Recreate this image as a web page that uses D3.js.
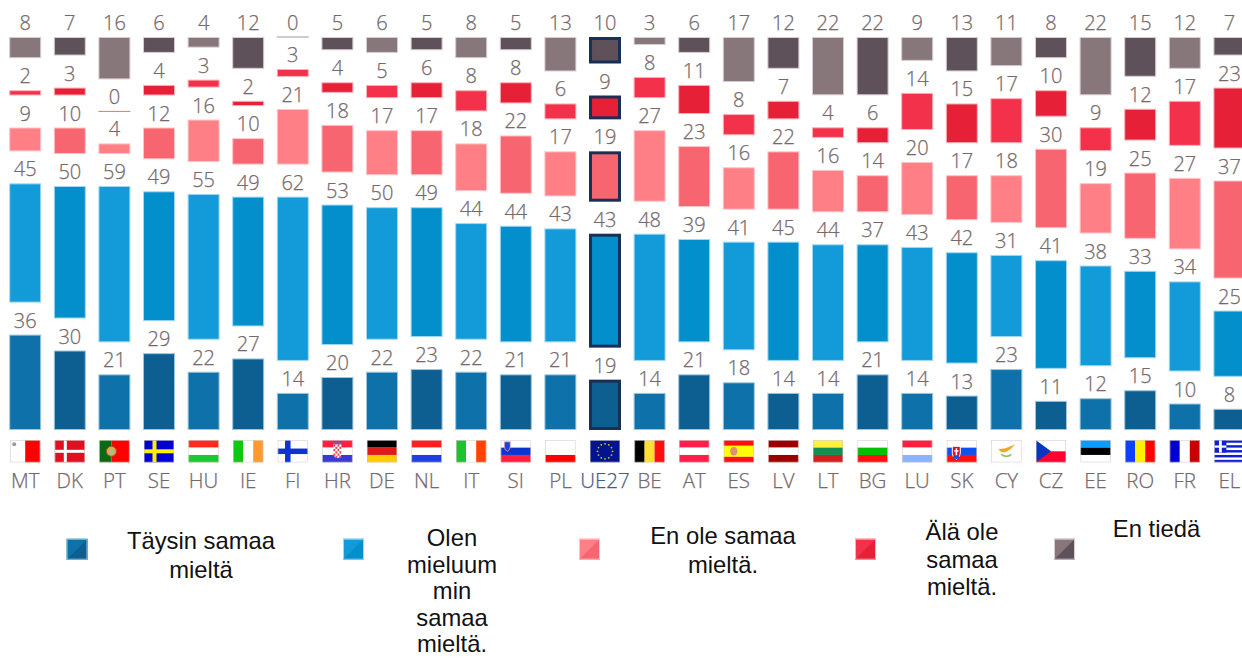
<!DOCTYPE html>
<html><head><meta charset="utf-8">
<style>html,body{margin:0;padding:0;background:#fff}svg{display:block}</style>
<script src="https://cdn.jsdelivr.net/npm/d3@7"></script></head>
<body><svg id="c" width="1242" height="658"></svg>
<script>
const countries=["MT","DK","PT","SE","HU","IE","FI","HR","DE","NL","IT","SI","PL","UE27","BE","AT","ES","LV","LT","BG","LU","SK","CY","CZ","EE","RO","FR","EL"];
const totallyAgree=[36,30,21,29,22,27,14,20,22,23,22,21,21,19,14,21,18,14,14,21,14,13,23,11,12,15,10,8];
const tendAgree=[45,50,59,49,55,49,62,53,50,49,44,44,43,43,48,39,41,45,44,37,43,42,31,41,38,33,34,25];
const tendDisagree=[9,10,4,12,16,10,21,18,17,17,18,22,17,19,27,23,16,22,16,14,20,17,18,30,19,25,27,37];
const totallyDisagree=[2,3,0,4,3,2,3,4,5,6,8,8,6,9,8,11,8,7,4,6,14,15,17,10,9,12,17,23];
const dontKnow=[8,7,16,6,4,12,0,5,6,5,8,5,13,10,3,6,17,12,22,22,9,13,11,8,22,15,12,7];
const seriesValues=[totallyAgree,tendAgree,tendDisagree,totallyDisagree,dontKnow];
const lightColors=["#0f71aa","#129bd8","#ff7f87","#f4314a","#87767a"];
const darkColors=["#0d5f92","#028fcb","#f76670","#e62036","#5f5159"];
const strokeColors=["#9cc6de","#a0d8f0","#ffc4c8","#fbb0ba","#d5cdd0"];
const legendLabels=[["Täysin samaa","mieltä"],["Olen","mieluum","min","samaa","mieltä."],["En ole samaa","mieltä."],["Älä ole","samaa","mieltä."],["En tiedä"]];
const legendX=[66.5,343,579,855,1054];
const legendTextX=[201,452,723,962,1156.5];
const legendTextY=[549.3,546,544.3,540,537.3];
const legendLineGap=[29,26.6,28.4,27.6,0];

const svg=d3.select("#c");
const x=d3.scaleBand().domain(countries).range([2.9,2.9+44.6*28]).paddingInner(0.283).paddingOuter(0.1415);
const h=d3.scaleLinear().domain([0,100]).range([0,265]);
const baseY=430,gap=32;
const labelFont="'Open Sans',sans-serif",grey="#75696c";

seriesValues.forEach((vals,s)=>{
  const g=svg.append("g");
  const rows=vals.map((v,i)=>{
    let cum=0;for(let k=0;k<s;k++)cum+=seriesValues[k][i];
    const bottom=baseY-h(cum)-gap*s;
    return {v,i,c:countries[i],top:bottom-h(v),bottom};
  });
  g.selectAll("rect").data(rows.filter(d=>d.v>0)).join("rect")
    .attr("x",d=>x(d.c)+(d.c==="UE27"?1.5:0.5))
    .attr("width",d=>x.bandwidth()-(d.c==="UE27"?3:1))
    .attr("y",d=>d.c==="UE27"?d.top+1.5:d.top+0.5)
    .attr("height",d=>Math.max(0,d.bottom-d.top-(d.c==="UE27"?3:1)))
    .attr("fill",d=>d.i%2?darkColors[s]:lightColors[s])
    .attr("stroke",d=>d.c==="UE27"?"#1b2f55":strokeColors[s])
    .attr("stroke-width",d=>d.c==="UE27"?3:1);
  g.selectAll("line").data(rows.filter(d=>d.v===0)).join("line")
    .attr("x1",d=>x(d.c)).attr("x2",d=>x(d.c)+x.bandwidth())
    .attr("y1",d=>d.top).attr("y2",d=>d.top)
    .attr("stroke",lightColors[s]).attr("stroke-opacity",.75).attr("stroke-width",1);
  g.selectAll("text").data(rows).join("text")
    .attr("x",d=>x(d.c)+x.bandwidth()/2)
    .attr("y",d=>d.top-7)
    .attr("text-anchor","middle")
    .attr("font-family",labelFont).attr("font-weight",300).attr("font-size",20)
    .attr("fill",grey).attr("stroke",grey).attr("stroke-width",.25)
    .text(d=>d.v);
});

svg.append("g").selectAll("text").data(countries).join("text")
  .attr("x",d=>x(d)+x.bandwidth()/2).attr("y",487.5)
  .attr("text-anchor","middle").attr("font-family",labelFont).attr("font-weight",300).attr("font-size",20.5)
  .attr("stroke-width",.25)
  .attr("fill",d=>d==="UE27"?"#3f5c88":grey).attr("stroke",d=>d==="UE27"?"#3f5c88":grey).text(d=>d);

/* flags */
const hStripes={HU:["#ff2a1f","#fff","#1cc832"],DE:["#000","#e01a1a","#ffcc00"],NL:["#ff1f1f","#fff","#1f3fe0"],HR:["#ff1f3f","#fff","#3a3ad0"],SI:["#fff","#0a35d0","#ff2040"],PL:["#fff","#fff","#ff0000"],AT:["#ff1f4a","#fff","#ff1f4a"],LV:["#9b0000","#fff","#9b0000"],LT:["#fff040","#109050","#d02020"],BG:["#fff","#00c000","#ff1010"],LU:["#ff2040","#fff","#8ab4ff"],SK:["#fff","#1050f0","#ff1010"],EE:["#0a9cff","#000","#fff"]};
const vStripes={IE:["#10c810","#fff","#ff9a30"],IT:["#20c030","#fff","#ff4400"],BE:["#000","#ffe030","#ff1010"],RO:["#1040ff","#fff000","#ff0000"],FR:["#0000d0","#fff","#c80000"]};
const crossFlags={DK:["#e01020","#fff"],SE:["#0000d0","#ffef00"],FI:["#fff","#0a35d0"]};
const fw=30,fh=22;
const flagG=svg.append("g").selectAll("g").data(countries).join("g")
  .attr("transform",d=>`translate(${x(d)+x.bandwidth()/2-15},440.3)`);
flagG.each(function(c){
  const f=d3.select(this);
  const r=(a,b,w,t,col)=>f.append("rect").attr("x",a).attr("y",b).attr("width",w).attr("height",t).attr("fill",col);
  const p=(pts,col)=>f.append("polygon").attr("points",pts).attr("fill",col);
  r(0,0,fw,fh,"#fff");
  if(hStripes[c]) hStripes[c].forEach((col,i)=>r(0,i*fh/3,fw,fh/3,col));
  if(vStripes[c]) vStripes[c].forEach((col,i)=>r(i*fw/3,0,fw/3,fh,col));
  if(crossFlags[c]){const [bg,fg]=crossFlags[c];r(0,0,fw,fh,bg);const t=c==="DK"?3:c==="SE"?4:5.5;const cx=c==="FI"?10:10.5;r(cx-t/2,0,t,fh,fg);r(0,fh/2-t/2,fw,t,fg);}
  if(c==="MT"){r(15,0,15,fh,"#ff0000");f.append("circle").attr("cx",4).attr("cy",4).attr("r",2).attr("fill","#999");}
  if(c==="PT"){r(0,0,12,fh,"#0a6a14");r(12,0,18,fh,"#ff0000");f.append("circle").attr("cx",12).attr("cy",11).attr("r",5).attr("fill","#d8b040").attr("stroke","#a05030");f.append("rect").attr("x",10).attr("y",9).attr("width",4).attr("height",5).attr("fill","#b8b0b0");}
  if(c==="HR"){f.append("path").attr("d","M11 4h8v9q0 4-4 5q-4-1-4-5z").attr("fill","#fff");d3.range(4).forEach(a=>d3.range(6).forEach(b=>{if((a+b)%2===0)r(11+a*2,4+b*2.3,2,2.3,"#e84a5a");}));r(11,2,8,2,"#5a6ac0");}
  if(c==="SI"){f.append("path").attr("d","M3.5 1.5h6v5q0 3-3 4.5q-3-1.5-3-4.5z").attr("fill","#1a45d8").attr("stroke","#f2b0b0").attr("stroke-width",.7);}
  if(c==="SK"){f.append("path").attr("d","M5.5 6h8v7q0 4-4 6q-4-2-4-6z").attr("fill","#e01020").attr("stroke","#fff");r(8.8,8,1.6,7,"#fff");r(7.4,10,4.4,1.3,"#fff");f.append("ellipse").attr("cx",9.5).attr("cy",17).attr("rx",3.5).attr("ry",1.6).attr("fill","#1050f0");}
  if(c==="ES"){r(0,0,fw,fh/4,"#ff1010");r(0,fh/4,fw,fh/2,"#ffff00");r(0,3*fh/4,fw,fh/4,"#ff1010");f.append("ellipse").attr("cx",10).attr("cy",11).attr("rx",3.6).attr("ry",4.2).attr("fill","#e09070");}
  if(c==="UE27"){r(0,0,fw,fh,"#00148c");d3.range(12).forEach(k=>{const a=k*Math.PI/6;f.append("circle").attr("cx",15+7.5*Math.cos(a)).attr("cy",11+7.5*Math.sin(a)).attr("r",0.9).attr("fill","#d8c020");});}
  if(c==="CY"){f.append("path").attr("d","M7 9 L14 8 L24 4 L19 9 L14 12 L10 12z").attr("fill","#f0a820");f.append("path").attr("d","M10 14q5 4 10 0").attr("fill","none").attr("stroke","#90c060").attr("stroke-width",1.6);}
  if(c==="CZ"){r(0,0,fw,fh/2,"#fff");r(0,fh/2,fw,fh/2,"#ff0030");p(`0,0 15,${fh/2} 0,${fh}`,"#0a35c0");}
  if(c==="EL"){r(0,0,fw,fh,"#fff");d3.range(5).forEach(k=>r(0,k*fh*2/9,fw,fh/9,"#1020d0"));r(0,0,12,fh*5/9,"#1020d0");r(4.6,0,2.8,fh*5/9,"#fff");r(0,fh*2/9+0.3,12,2.2,"#fff");}
  f.append("rect").attr("x",.25).attr("y",.25).attr("width",fw-.5).attr("height",fh-.5).attr("fill","none").attr("stroke","#cfc6c6").attr("stroke-width",.5);
});

/* legend */
const lg=svg.append("g");
legendX.forEach((lx,i)=>{
  const sw=lg.append("g").attr("transform",`translate(${lx},538.7)`);
  sw.append("rect").attr("width",21).attr("height",21).attr("fill",lightColors[i]);
  sw.append("polygon").attr("points","21,0 21,21 0,21").attr("fill",darkColors[i]);
  sw.append("rect").attr("x",.5).attr("y",.5).attr("width",20).attr("height",20).attr("fill","none").attr("stroke",strokeColors[i]);
  legendLabels[i].forEach((t,k)=>{
    lg.append("text").attr("x",legendTextX[i]).attr("y",legendTextY[i]+k*legendLineGap[i]).attr("text-anchor","middle")
      .attr("font-family","'Liberation Sans',Arial,sans-serif").attr("font-size",23.8).attr("fill","#111").text(t);
  });
});
</script></body></html>
